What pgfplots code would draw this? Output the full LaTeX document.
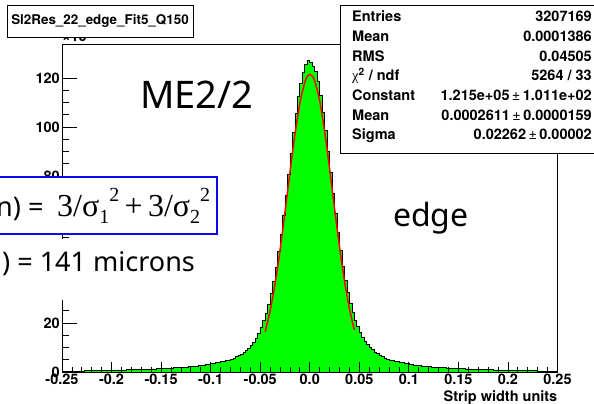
\documentclass[border=0pt]{standalone}
\usepackage{fontspec}
\setmainfont{TeX Gyre Heros}
\newfontfamily\slidefont{Noto Sans}
\newfontfamily\symfont{Liberation Serif}
\usepackage{pgfplots}
\usepackage{pgfplotstable}
\pgfplotsset{compat=1.18}

\definecolor{rootgreen}{RGB}{0,255,0}
\definecolor{rootred}{RGB}{255,0,0}
\definecolor{slideblue}{RGB}{10,10,235}

% 200 bins of 0.0025, left edge and content (x 10^3 entries)
\pgfplotstableread{
x n
-0.2500 0.33
-0.2475 0.34
-0.2450 0.35
-0.2425 0.36
-0.2400 0.38
-0.2375 0.40
-0.2350 0.42
-0.2325 0.44
-0.2300 0.46
-0.2275 0.48
-0.2250 0.50
-0.2225 0.52
-0.2200 0.54
-0.2175 0.56
-0.2150 0.58
-0.2125 0.60
-0.2100 0.62
-0.2075 0.64
-0.2050 0.66
-0.2025 0.68
-0.2000 0.70
-0.1975 0.73
-0.1950 0.76
-0.1925 0.79
-0.1900 0.82
-0.1875 0.85
-0.1850 0.88
-0.1825 0.91
-0.1800 0.94
-0.1775 0.97
-0.1750 1.00
-0.1725 1.04
-0.1700 1.08
-0.1675 1.12
-0.1650 1.16
-0.1625 1.20
-0.1600 1.24
-0.1575 1.28
-0.1550 1.32
-0.1525 1.36
-0.1500 1.41
-0.1475 1.46
-0.1450 1.52
-0.1425 1.58
-0.1400 1.64
-0.1375 1.70
-0.1350 1.77
-0.1325 1.84
-0.1300 1.91
-0.1275 1.99
-0.1250 2.08
-0.1225 2.17
-0.1200 2.27
-0.1175 2.38
-0.1150 2.50
-0.1125 2.62
-0.1100 2.75
-0.1075 2.90
-0.1050 3.05
-0.1025 3.20
-0.1000 3.35
-0.0975 3.55
-0.0950 3.75
-0.0925 3.95
-0.0900 4.15
-0.0875 4.40
-0.0850 4.65
-0.0825 4.90
-0.0800 5.20
-0.0775 5.60
-0.0750 6.20
-0.0725 6.75
-0.0700 7.40
-0.0675 8.10
-0.0650 8.90
-0.0625 9.80
-0.0600 11.0
-0.0575 12.3
-0.0550 13.9
-0.0525 15.9
-0.0500 18.2
-0.0475 20.9
-0.0450 24.1
-0.0425 27.8
-0.0400 32.1
-0.0375 37.0
-0.0350 42.7
-0.0325 49.1
-0.0300 56.1
-0.0275 63.8
-0.0250 72.0
-0.0225 80.6
-0.0200 89.2
-0.0175 97.7
-0.0150 105.5
-0.0125 112.4
-0.0100 118.0
-0.0075 122.4
-0.0050 125.4
-0.0025 127.3
0.0000 126.6
0.0025 124.9
0.0050 122.8
0.0075 118.6
0.0100 113.1
0.0125 106.2
0.0150 98.5
0.0175 90.0
0.0200 81.4
0.0225 72.9
0.0250 64.6
0.0275 56.9
0.0300 49.8
0.0325 43.3
0.0350 37.5
0.0375 32.5
0.0400 28.2
0.0425 24.4
0.0450 21.2
0.0475 18.5
0.0500 16.1
0.0525 14.1
0.0550 12.5
0.0575 11.2
0.0600 10.0
0.0625 9.05
0.0650 8.2
0.0675 7.5
0.0700 6.85
0.0725 6.3
0.0750 5.7
0.0775 5.3
0.0800 4.95
0.0825 4.68
0.0850 4.42
0.0875 4.18
0.0900 3.97
0.0925 3.76
0.0950 3.56
0.0975 3.37
0.1000 3.21
0.1025 3.06
0.1050 2.91
0.1075 2.76
0.1100 2.63
0.1125 2.51
0.1150 2.39
0.1175 2.28
0.1200 2.18
0.1225 2.09
0.1250 2.00
0.1275 1.92
0.1300 1.85
0.1325 1.78
0.1350 1.71
0.1375 1.65
0.1400 1.59
0.1425 1.53
0.1450 1.47
0.1475 1.42
0.1500 1.37
0.1525 1.33
0.1550 1.29
0.1575 1.25
0.1600 1.21
0.1625 1.17
0.1650 1.13
0.1675 1.09
0.1700 1.05
0.1725 1.01
0.1750 0.98
0.1775 0.95
0.1800 0.92
0.1825 0.89
0.1850 0.86
0.1875 0.83
0.1900 0.80
0.1925 0.77
0.1950 0.74
0.1975 0.71
0.2000 0.69
0.2025 0.67
0.2050 0.65
0.2075 0.63
0.2100 0.61
0.2125 0.59
0.2150 0.57
0.2175 0.55
0.2200 0.53
0.2225 0.51
0.2250 0.49
0.2275 0.47
0.2300 0.45
0.2325 0.43
0.2350 0.41
0.2375 0.39
0.2400 0.37
0.2425 0.36
0.2450 0.35
0.2475 0.34
0.2500 0.34
}\histdata

% gaussian fit, sampled
\pgfplotstableread{
x f
-0.045 16.42
-0.040 24.93
-0.035 36.05
-0.030 49.66
-0.025 65.14
-0.020 81.36
-0.015 96.78
-0.010 109.62
-0.005 118.26
-0.0025 120.60
0.000 121.49
0.0025 120.91
0.005 118.86
0.010 110.75
0.015 98.26
0.020 83.02
0.025 66.81
0.030 51.19
0.035 37.36
0.040 25.96
0.045 17.18
}\fitdata

\newcommand\rootfont{\bfseries\fontsize{14.5bp}{16bp}\selectfont}

\begin{document}
\begin{tikzpicture}
\useasboundingbox (0,0) rectangle (594bp,404bp);
\begin{axis}[
    scale only axis,
    width=495.5bp, height=328bp,
    at={(62bp,32bp)}, anchor=south west,
    xmin=-0.25, xmax=0.25,
    ymin=0, ymax=133.9,
    axis on top,
    tick pos=left,
    tick align=inside,
    xtick={-0.25,-0.2,-0.15,-0.1,-0.05,0,0.05,0.1,0.15,0.2,0.25},
    xticklabels={−0.25,−0.2,−0.15,−0.1,−0.05,0,0.05,0.1,0.15,0.2,0.25},
    ytick={0,20,40,60,80,100,120},
    yticklabels={0,20,40,60,80,100,120},
    minor x tick num=4,
    minor y tick num=3,
    xtick style={/pgfplots/major tick length=9.8bp,/pgfplots/minor tick length=4.9bp,line width=0.8bp,black},
    ytick style={/pgfplots/major tick length=15bp,/pgfplots/minor tick length=7.5bp,line width=0.8bp,black},
    axis line style={line width=0.8bp},
    xticklabel style={font=\rootfont, inner sep=2pt},
    yticklabel style={font=\rootfont, inner sep=2pt},
    xticklabel={\rootfont\tick},
    xlabel={Strip width units},
    xlabel style={at={(rel axis cs:1,0)}, anchor=north east, yshift=-18bp, inner sep=0pt, font=\rootfont},
]
\addplot[const plot mark left, draw=black, line width=0.7bp, fill=rootgreen] table[x=x,y=n] {\histdata} \closedcycle;
\addplot[smooth, rootred, line width=1.5bp] table[x=x,y=f] {\fitdata};
\end{axis}

% exponent of the y axis, mostly hidden under the title box
\node[anchor=base west, inner sep=0pt, font=\rootfont] at (62bp,362bp) {×10\textsuperscript{3}};

% title box
\draw[line width=0.8bp, fill=white] (7bp,399bp) rectangle (193bp,367bp);
\node[font=\bfseries\fontsize{13.4bp}{15bp}\selectfont] at (100bp,383bp) {Sl2Res\_22\_edge\_Fit5\_Q150};

% statistics box
\draw[line width=0.8bp, fill=white] (340bp,399bp) rectangle (610bp,251bp);
\begin{scope}[every node/.style={inner sep=0pt, font=\rootfont}]
\node[anchor=base west] at (352bp,382.3bp) {Entries};
\node[anchor=base east] at (592bp,382.3bp) {3207169};
\node[anchor=base west] at (352bp,362.6bp) {Mean};
\node[anchor=base east] at (592bp,362.6bp) {0.0001386};
\node[anchor=base west] at (352bp,342.9bp) {RMS};
\node[anchor=base east] at (592bp,342.9bp) {0.04505};
\node[anchor=base west] at (352bp,323.2bp) {{\mdseries\symfont χ}\textsuperscript{2} / ndf};
\node[anchor=base east] at (592bp,323.2bp) {5264 / 33};
\node[anchor=base west] at (352bp,303.5bp) {Constant};
\node[anchor=base east] at (592bp,303.5bp) {1.215e+05{\mdseries\,±\,}1.011e+02};
\node[anchor=base west] at (352bp,283.8bp) {Mean};
\node[anchor=base east] at (592bp,283.8bp) {0.0002611{\mdseries\,±\,}0.0000159};
\node[anchor=base west] at (352bp,264.0bp) {Sigma};
\node[anchor=base east] at (592bp,264.0bp) {0.02262{\mdseries\,±\,}0.00002};
\end{scope}

% text pasted over the plot
\node[anchor=base west, inner sep=0pt, font=\slidefont\fontsize{38bp}{40bp}\selectfont] at (140bp,295bp) {ME2/2};
\node[anchor=base west, inner sep=0pt, font=\slidefont\fontsize{32bp}{34bp}\selectfont] at (393bp,177bp) {edge};

\draw[slideblue, line width=1.3bp, fill=white] (-5bp,227bp) rectangle (217bp,170bp);
\node[anchor=base west, inner sep=0pt, font=\slidefont\fontsize{27bp}{29bp}\selectfont] at (-4bp,187bp) {n) =};
\node[anchor=base west, inner sep=0pt, font=\symfont\fontsize{32bp}{34bp}\selectfont] at (57bp,187bp)
  {3/σ\raisebox{-0.2em}{\fontsize{20bp}{21bp}\selectfont 1}\raisebox{0.48em}{\fontsize{20bp}{21bp}\selectfont 2}\,+\,3/σ\raisebox{-0.2em}{\fontsize{20bp}{21bp}\selectfont 2}\raisebox{0.48em}{\fontsize{20bp}{21bp}\selectfont 2}};

\fill[white] (0bp,165bp) rectangle (222bp,104bp);
\node[anchor=base west, inner sep=0pt, font=\slidefont\fontsize{27bp}{29bp}\selectfont] at (2bp,132bp) {) = 141 microns};
\end{tikzpicture}
\end{document}
